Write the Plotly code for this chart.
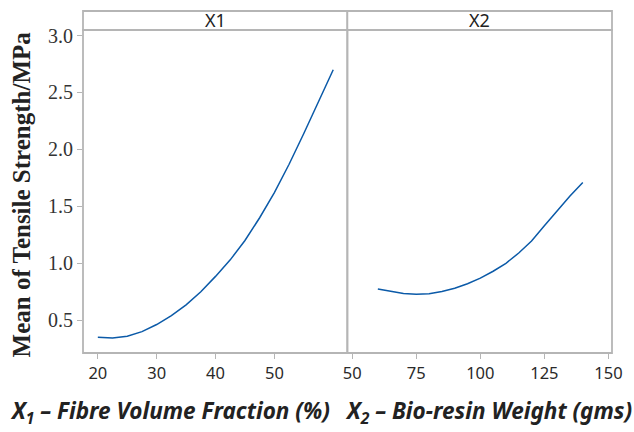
import plotly.graph_objects as go

# Data
x1_vals = [20, 22.5, 25, 27.5, 30, 32.5, 35, 37.5, 40, 42.5, 45, 47.5, 50, 52.5, 55, 57.5, 60]
x1_mean = [0.350, 0.343, 0.360, 0.400, 0.462, 0.540, 0.635, 0.750, 0.885, 1.030, 1.200,
           1.400, 1.620, 1.870, 2.140, 2.420, 2.700]
x2_vals = [60, 65, 70, 75, 80, 85, 90, 95, 100, 105, 110, 115, 120, 125, 130, 135, 140]
x2_mean = [0.775, 0.752, 0.735, 0.728, 0.733, 0.752, 0.780, 0.820, 0.870, 0.930, 1.000,
           1.090, 1.195, 1.330, 1.465, 1.590, 1.710]
x1_ticks = [20, 30, 40, 50]
x2_ticks = [50, 75, 100, 125, 150]
y_ticks = [0.5, 1.0, 1.5, 2.0, 2.5, 3.0]
panel_titles = ["X1", "X2"]
x_titles = ["<i>X<sub>1</sub> – Fibre Volume Fraction (%)</i>",
            "<i>X<sub>2</sub> – Bio-resin Weight (gms)</i>"]
y_title = "Mean of Tensile Strength/MPa"

LINE = "#0B5AA8"
GRID = "#B5B5B5"
W, H = 634, 432
L, R, T, B = 83.3, 22, 5.7, 78.7
plot_h = H - T - B
plot_w = W - L - R
header_h = 19.3
ytop = 1 - header_h / plot_h
xsplit = (347.5 - L) / plot_w

fig = go.Figure()
fig.add_trace(go.Scatter(x=x1_vals, y=x1_mean, mode="lines", xaxis="x", yaxis="y",
                         line=dict(color=LINE, width=1.5), showlegend=False))
fig.add_trace(go.Scatter(x=x2_vals, y=x2_mean, mode="lines", xaxis="x2", yaxis="y2",
                         line=dict(color=LINE, width=1.5), showlegend=False))

tickfont_x = dict(family="Noto Sans", size=16.5, color="#2a2a2a")
tickfont_y = dict(family="Liberation Serif", size=20, color="#333333")

fig.update_layout(
    width=W, height=H,
    margin=dict(l=L, r=R, t=T, b=B),
    paper_bgcolor="white", plot_bgcolor="white",
    xaxis=dict(domain=[0, xsplit], range=[17.48, 62.4], tickvals=x1_ticks,
               ticks="outside", ticklen=5, tickwidth=1.2, tickcolor=GRID,
               showgrid=False, zeroline=False, showline=False, tickfont=tickfont_x),
    xaxis2=dict(domain=[xsplit, 1], range=[48.1, 151.4], tickvals=x2_ticks,
                ticks="outside", ticklen=5, tickwidth=1.2, tickcolor=GRID,
                showgrid=False, zeroline=False, showline=False, tickfont=tickfont_x,
                anchor="y2"),
    yaxis=dict(domain=[0, ytop], range=[0.212, 3.049], tickvals=y_ticks,
               ticktext=[f"{v:.1f}" for v in y_ticks],
               ticks="outside", ticklen=5, tickwidth=1.2, tickcolor=GRID,
               showgrid=False, zeroline=False, showline=False, tickfont=tickfont_y),
    yaxis2=dict(domain=[0, ytop], range=[0.212, 3.049], anchor="x2",
                showticklabels=False, ticks="", showgrid=False, zeroline=False,
                showline=False, matches="y"),
)

shapes = []
for x0, x1 in [(0, xsplit), (xsplit, 1)]:
    shapes.append(dict(type="rect", xref="paper", yref="paper", x0=x0, x1=x1, y0=0, y1=ytop,
                       line=dict(color=GRID, width=1.8), fillcolor="rgba(0,0,0,0)", layer="above"))
    shapes.append(dict(type="rect", xref="paper", yref="paper", x0=x0, x1=x1, y0=ytop, y1=1,
                       line=dict(color=GRID, width=1.8), fillcolor="white", layer="above"))
fig.update_layout(shapes=shapes)

def px_x(px):
    return (px - L) / plot_w

def px_y(py):
    return (H - B - py) / plot_h

ann = []
for i, (x0, x1) in enumerate([(0, xsplit), (xsplit, 1)]):
    ann.append(dict(text=panel_titles[i], xref="paper", yref="paper", x=(x0 + x1) / 2,
                    y=(ytop + 1) / 2, showarrow=False, xanchor="center", yanchor="middle",
                    font=dict(family="Noto Sans", size=18, color="#222222")))
ann.append(dict(text="<b>" + x_titles[0] + "</b>", xref="paper", yref="paper",
                x=px_x(170.5), y=px_y(413),
                showarrow=False, xanchor="center", yanchor="middle",
                font=dict(family="Noto Sans", size=22.5, color="#222222")))
ann.append(dict(text="<b>" + x_titles[1] + "</b>", xref="paper", yref="paper",
                x=px_x(488.5), y=px_y(413),
                showarrow=False, xanchor="center", yanchor="middle",
                font=dict(family="Noto Sans", size=22.5, color="#222222")))
ann.append(dict(text="<b>" + y_title + "</b>", xref="paper", yref="paper",
                x=px_x(22), y=px_y(192.5), textangle=-90,
                showarrow=False, xanchor="center", yanchor="middle",
                font=dict(family="Liberation Serif", size=25, color="#222222")))
fig.update_layout(annotations=ann)

fig.write_html("out.html")
